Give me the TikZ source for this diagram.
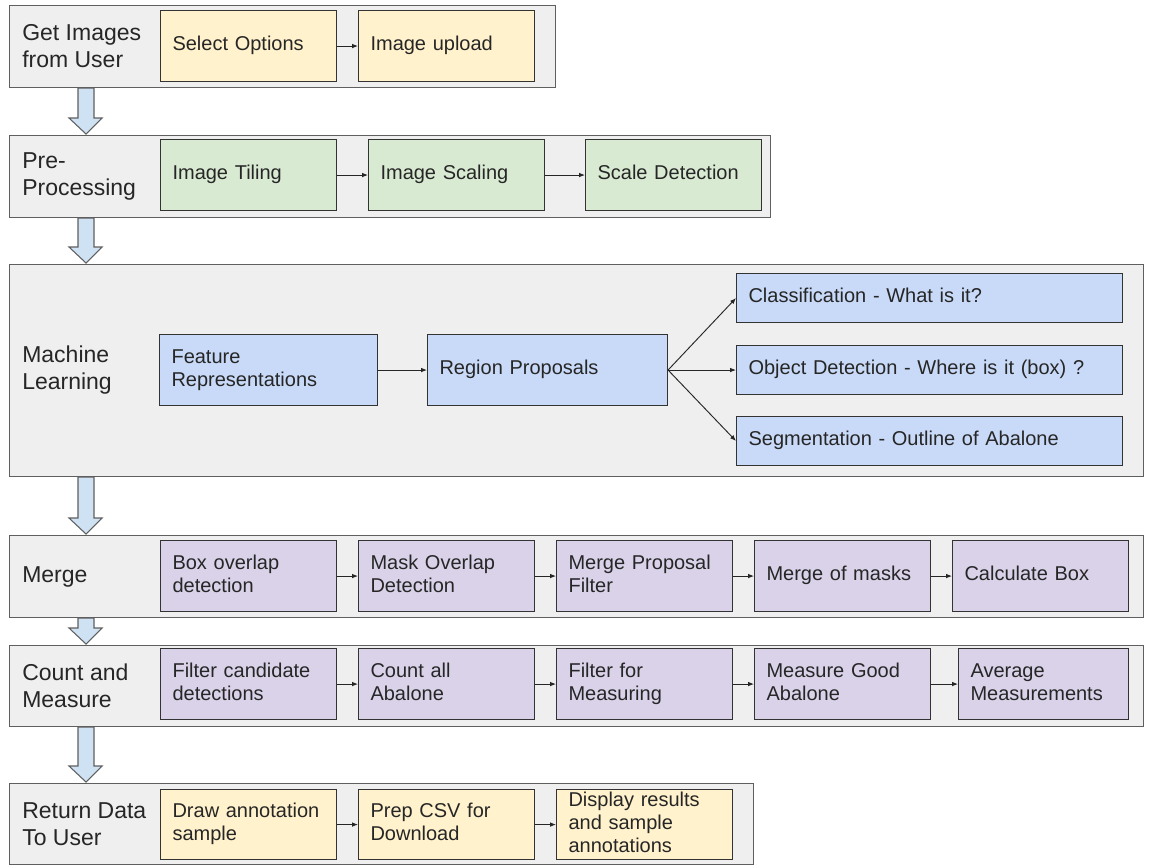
\documentclass[tikz,border=0pt]{standalone}
\usepackage{fontspec}
\setmainfont{Liberation Sans}
\usetikzlibrary{arrows.meta, calc}

\definecolor{stagebg}{HTML}{EFEFEF}
\definecolor{stageline}{HTML}{5F5F5F}
\definecolor{boxline}{HTML}{333333}
\definecolor{yellowbg}{HTML}{FFF2CC}
\definecolor{greenbg}{HTML}{D9EAD3}
\definecolor{bluebg}{HTML}{C9DAF8}
\definecolor{purplebg}{HTML}{D9D2E9}
\definecolor{fatbg}{HTML}{CFE2F3}

% block arrow between two stages
\newcommand{\fatdown}[2]{%
  \draw[fatarrow] ($(#1.south west)+(69,0)$) -- ($(#2.north west)+(69,-17)$)
    -- ($(#2.north west)+(60,-17)$) -- ($(#2.north west)+(77,-1)$)
    -- ($(#2.north west)+(93,-17)$) -- ($(#2.north west)+(85,-17)$)
    -- ($(#1.south west)+(85,0)$) -- cycle;}

\begin{document}
\begin{tikzpicture}[
    x=0.75pt, y=-0.75pt,
    % --- styles ---
    stage/.style={
            draw=stageline,
            fill=stagebg,
            line width=0.8pt,
            anchor=north west,
            inner sep=0pt
        },
    stagelbl/.style={
            anchor=west,
            xshift=9.75pt,
            align=left,
            inner sep=0pt,
            font=\fontsize{17.25pt}{20.25pt}\selectfont,
            text=black!85
        },
    stepbox/.style={
            draw=boxline,
            line width=0.8pt,
            anchor=north west,
            align=left,
            inner xsep=9pt,
            inner ysep=1pt,
            minimum width=132pt,
            minimum height=53.25pt,
            text width=114pt,
            font=\fontsize{15pt}{17.25pt}\selectfont,
            execute at begin node=\strut,
            execute at end node=\strut,
            text=black!85
        },
    yellowbox/.style={stepbox, fill=yellowbg},
    greenbox/.style={stepbox, fill=greenbg},
    bluebox/.style={stepbox, fill=bluebg},
    purplebox/.style={stepbox, fill=purplebg},
    flow/.style={
            -{Latex[length=4.5pt, width=3.5pt]},
            line width=0.7pt,
            black!85
        },
    fatarrow/.style={
            draw=stageline,
            fill=fatbg,
            line width=0.8pt,
            line join=miter
        }
    ]
    \useasboundingbox (0,0) rectangle (1152,865);

    % --- stages ---
    \node[stage, minimum width=409.5pt, minimum height=61.5pt] (getimg) at (9,5) {};
    \node[stage, minimum width=570.75pt, minimum height=61.5pt] (preproc) at (9,135) {};
    \node[stage, minimum width=850.5pt, minimum height=159pt] (ml) at (9,264) {};
    \node[stage, minimum width=850.5pt, minimum height=61.5pt] (merge) at (9,535) {};
    \node[stage, minimum width=850.5pt, minimum height=60.75pt] (count) at (9,645) {};
    \node[stage, minimum width=558pt, minimum height=60.75pt] (ret) at (9,783) {};

    \node[stagelbl] at (getimg.west) {Get Images\\from User};
    \node[stagelbl] at (preproc.west) {Pre-\\Processing};
    \node[stagelbl] at (ml.west) {Machine\\Learning};
    \node[stagelbl] at (merge.west) {Merge};
    \node[stagelbl] at (count.west) {Count and\\Measure};
    \node[stagelbl] at (ret.west) {Return Data\\To User};

    % --- block arrows ---
    \fatdown{getimg}{preproc}
    \fatdown{preproc}{ml}
    \fatdown{ml}{merge}
    \fatdown{merge}{count}
    \fatdown{count}{ret}

    % --- get images ---
    \node[yellowbox] (selopt) at (160,10) {Select Options};
    \node[yellowbox] (imgup) at (358,10) {Image upload};

    % --- pre-processing ---
    \node[greenbox] (tiling) at (160,139) {Image Tiling};
    \node[greenbox] (scaling) at (368,139) {Image Scaling};
    \node[greenbox] (scaledet) at (585,139) {Scale Detection};

    % --- machine learning ---
    \node[bluebox, minimum width=163.5pt, text width=145.5pt] (feat) at (159,334) {Feature\\Representations};
    \node[bluebox, minimum width=180pt, text width=162pt] (region) at (427,334) {Region Proposals};
    \node[bluebox, minimum width=289.5pt, text width=271.5pt, minimum height=36.75pt] (classif) at (736,273) {Classification - What is it?};
    \node[bluebox, minimum width=289.5pt, text width=271.5pt, minimum height=36.75pt] (objdet) at (736,345) {Object Detection - Where is it (box) ?};
    \node[bluebox, minimum width=289.5pt, text width=271.5pt, minimum height=36.75pt] (segm) at (736,416) {Segmentation - Outline of Abalone};

    % --- merge ---
    \node[purplebox] (boxov) at (160,540) {Box overlap\\detection};
    \node[purplebox] (maskov) at (358,540) {Mask Overlap\\Detection};
    \node[purplebox] (mergefilt) at (556,540) {Merge Proposal\\Filter};
    \node[purplebox] (mergemask) at (754,540) {Merge of masks};
    \node[purplebox] (calcbox) at (952,540) {Calculate Box};

    % --- count and measure ---
    \node[purplebox] (filtcand) at (160,648) {Filter candidate\\detections};
    \node[purplebox] (countall) at (358,648) {Count all\\Abalone};
    \node[purplebox] (filtmeas) at (556,648) {Filter for\\Measuring};
    \node[purplebox] (measgood) at (754,648) {Measure Good\\Abalone};
    \node[purplebox, minimum width=127.5pt, text width=109.5pt] (avgmeas) at (958,648) {Average\\Measurements};

    % --- return data ---
    \node[yellowbox, minimum height=52.5pt] (drawann) at (160,789) {Draw annotation\\sample};
    \node[yellowbox, minimum height=52.5pt] (prepcsv) at (358,789) {Prep CSV for\\Download};
    \node[yellowbox, minimum height=52.5pt, inner ysep=0pt] (disp) at (556,789) {Display results\\and sample\\annotations};

    % --- connectors ---
    \draw[flow] (selopt) -- (imgup);
    \draw[flow] (tiling) -- (scaling);
    \draw[flow] (scaling) -- (scaledet);
    \draw[flow] (feat) -- (region);
    \draw[flow] (region.east) -- (classif.west);
    \draw[flow] (region.east) -- (objdet.west);
    \draw[flow] (region.east) -- (segm.west);
    \draw[flow] (boxov) -- (maskov);
    \draw[flow] (maskov) -- (mergefilt);
    \draw[flow] (mergefilt) -- (mergemask);
    \draw[flow] (mergemask) -- (calcbox);
    \draw[flow] (filtcand) -- (countall);
    \draw[flow] (countall) -- (filtmeas);
    \draw[flow] (filtmeas) -- (measgood);
    \draw[flow] (measgood) -- (avgmeas);
    \draw[flow] (drawann) -- (prepcsv);
    \draw[flow] (prepcsv) -- (disp);

\end{tikzpicture}
\end{document}
